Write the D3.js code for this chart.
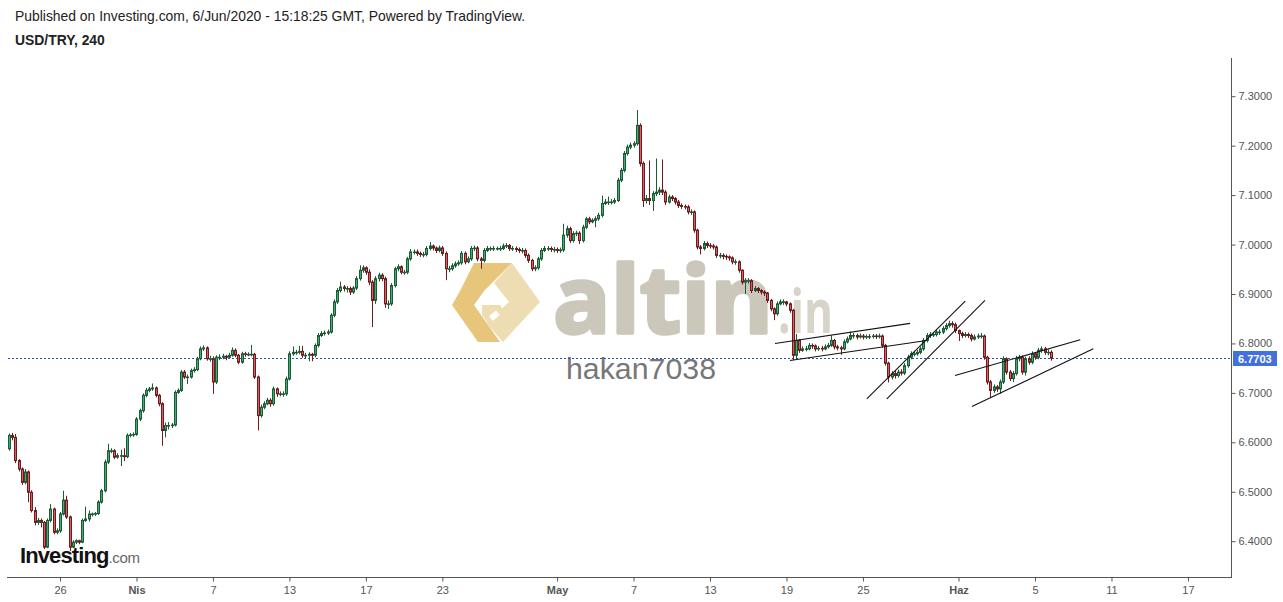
<!DOCTYPE html>
<html><head><meta charset="utf-8">
<script src="https://cdn.jsdelivr.net/npm/d3@7/dist/d3.min.js"></script>
<style>
html,body{margin:0;padding:0;background:#fff;}
svg{display:block;font-family:Arial,"Liberation Sans",sans-serif;}
</style></head>
<body><svg id="c" width="1283" height="602"></svg>
<script>
// USD/TRY 4h candles, first bar = 23 Mar 2020 08:00, 6 bars per trading day
const firstOpen = 6.587;
const closes = [
 6.614,6.610,6.563,6.546,
 6.519,6.540,6.499,6.462,6.438,6.442,
 6.438,6.388,6.442,6.465,6.418,6.421,
 6.455,6.483,6.449,6.388,6.398,6.401,
 6.398,6.442,6.445,6.455,6.455,6.456,
 6.479,6.502,6.560,6.583,6.583,6.570,
 6.573,6.573,6.571,6.614,6.615,6.616,
 6.647,6.664,6.695,6.705,6.708,6.710,
 6.695,6.678,6.624,6.634,6.634,6.635,
 6.701,6.705,6.742,6.732,6.732,6.745,
 6.747,6.769,6.789,6.791,6.769,6.769,
 6.722,6.772,6.772,6.774,6.772,6.776,
 6.786,6.776,6.762,6.779,6.778,6.778,
 6.778,6.732,6.654,6.671,6.678,6.685,
 6.678,6.708,6.698,6.698,6.698,6.728,
 6.779,6.782,6.782,6.784,6.776,6.776,
 6.778,6.776,6.796,6.816,6.820,6.821,
 6.823,6.857,6.884,6.907,6.914,6.911,
 6.911,6.904,6.912,6.931,6.948,6.953,
 6.944,6.924,6.887,6.931,6.938,6.931,
 6.880,6.880,6.917,6.951,6.955,6.944,
 6.944,6.971,6.985,6.985,6.982,6.980,
 6.980,6.992,6.997,6.993,6.988,6.993,
 6.982,6.951,6.951,6.957,6.961,6.963,
 6.982,6.965,6.971,6.992,6.993,6.971,
 6.968,6.988,6.992,6.992,6.992,6.992,
 6.992,6.997,6.998,6.992,6.992,6.990,
 6.988,6.988,6.978,6.968,6.951,6.953,
 6.971,6.988,6.992,6.992,6.990,6.990,
 6.988,6.989,7.019,7.032,7.008,7.022,
 7.023,7.008,7.035,7.052,7.046,7.049,
 7.052,7.059,7.083,7.086,7.086,7.086,
 7.089,7.130,7.150,7.184,7.197,7.201,
 7.204,7.241,7.164,7.089,7.093,7.089,
 7.103,7.106,7.110,7.106,7.086,7.096,
 7.093,7.086,7.079,7.077,7.076,7.066,
 7.066,7.029,6.995,6.992,7.002,6.998,
 6.997,6.995,6.978,6.978,6.976,6.975,
 6.973,6.965,6.965,6.948,6.924,6.927,
 6.927,6.907,6.911,6.907,6.904,6.902,
 6.887,6.870,6.860,6.880,6.884,6.884,
 6.880,6.867,6.776,6.806,6.786,6.789,
 6.789,6.796,6.795,6.789,6.790,6.789,
 6.793,6.796,6.806,6.793,6.791,6.789,
 6.803,6.809,6.816,6.816,6.813,6.815,
 6.813,6.814,6.814,6.815,6.814,6.815,
 6.796,6.760,6.732,6.739,6.735,6.742,
 6.740,6.755,6.772,6.779,6.779,6.782,
 6.789,6.806,6.816,6.818,6.818,6.823,
 6.823,6.830,6.836,6.840,6.838,6.826,
 6.820,6.816,6.818,6.816,6.809,6.813,
 6.815,6.815,6.772,6.722,6.705,6.712,
 6.708,6.722,6.769,6.742,6.729,6.739,
 6.769,6.772,6.742,6.769,6.762,6.779,
 6.772,6.786,6.789,6.782,6.782,6.7703
];
const highs = [
 6.618,6.619,6.617,6.566,
 6.549,6.546,6.543,6.503,6.469,6.447,
 6.446,6.441,6.446,6.475,6.468,6.426,
 6.459,6.502,6.492,6.452,6.402,6.404,
 6.403,6.446,6.470,6.462,6.458,6.459,
 6.483,6.506,6.565,6.597,6.588,6.586,
 6.578,6.585,6.588,6.618,6.619,6.620,
 6.651,6.668,6.699,6.710,6.712,6.719,
 6.713,6.698,6.681,6.640,6.641,6.639,
 6.705,6.709,6.746,6.746,6.737,6.749,
 6.752,6.773,6.794,6.796,6.794,6.775,
 6.774,6.776,6.778,6.779,6.777,6.781,
 6.792,6.790,6.779,6.783,6.783,6.782,
 6.797,6.781,6.735,6.676,6.683,6.690,
 6.689,6.713,6.711,6.703,6.703,6.733,
 6.784,6.794,6.787,6.795,6.795,6.781,
 6.782,6.781,6.800,6.821,6.825,6.826,
 6.828,6.861,6.889,6.912,6.925,6.918,
 6.916,6.915,6.916,6.936,6.958,6.958,
 6.956,6.950,6.928,6.936,6.943,6.942,
 6.935,6.887,6.922,6.955,6.960,6.958,
 6.949,6.975,6.991,6.990,6.990,6.986,
 6.985,6.997,7.005,7.000,6.996,6.998,
 6.997,6.986,6.957,6.962,6.966,6.968,
 6.987,6.986,6.976,6.997,6.998,6.997,
 6.975,6.993,6.997,6.996,6.997,6.996,
 6.997,7.002,7.003,7.001,6.997,6.996,
 6.994,6.993,6.992,6.982,6.971,6.958,
 6.975,6.993,6.997,6.997,6.996,6.995,
 6.994,6.994,7.042,7.038,7.036,7.027,
 7.028,7.027,7.040,7.056,7.056,7.053,
 7.057,7.064,7.099,7.092,7.097,7.092,
 7.094,7.135,7.155,7.189,7.202,7.206,
 7.209,7.272,7.245,7.168,7.100,7.170,
 7.108,7.174,7.116,7.172,7.110,7.101,
 7.100,7.096,7.090,7.083,7.081,7.080,
 7.071,7.069,7.032,6.999,7.007,7.006,
 7.003,7.001,6.998,6.983,6.982,6.980,
 6.978,6.976,6.970,6.968,6.950,6.932,
 6.932,6.930,6.916,6.914,6.910,6.907,
 6.904,6.890,6.873,6.885,6.889,6.889,
 6.886,6.883,6.870,6.819,6.809,6.794,
 6.795,6.801,6.800,6.798,6.795,6.795,
 6.798,6.801,6.816,6.809,6.797,6.795,
 6.808,6.814,6.824,6.821,6.820,6.820,
 6.819,6.818,6.819,6.819,6.819,6.820,
 6.818,6.799,6.763,6.744,6.745,6.747,
 6.748,6.760,6.777,6.784,6.785,6.787,
 6.794,6.811,6.821,6.823,6.823,6.828,
 6.828,6.835,6.841,6.846,6.845,6.842,
 6.828,6.824,6.823,6.822,6.820,6.818,
 6.820,6.821,6.818,6.775,6.726,6.717,
 6.716,6.727,6.774,6.772,6.746,6.744,
 6.775,6.777,6.776,6.773,6.774,6.784,
 6.782,6.791,6.794,6.793,6.788,6.786
];
const lows = [
 6.583,6.604,6.558,6.541,
 6.514,6.515,6.479,6.458,6.432,6.433,
 6.428,6.384,6.386,6.438,6.414,6.414,
 6.417,6.452,6.445,6.380,6.386,6.394,
 6.394,6.396,6.439,6.440,6.450,6.451,
 6.453,6.476,6.499,6.556,6.578,6.566,
 6.567,6.552,6.562,6.568,6.610,6.611,
 6.613,6.643,6.660,6.691,6.701,6.704,
 6.691,6.673,6.593,6.610,6.626,6.629,
 6.632,6.698,6.702,6.728,6.718,6.729,
 6.741,6.744,6.766,6.785,6.765,6.763,
 6.698,6.718,6.766,6.768,6.766,6.770,
 6.773,6.772,6.758,6.759,6.773,6.774,
 6.774,6.728,6.624,6.650,6.667,6.675,
 6.672,6.674,6.692,6.693,6.692,6.694,
 6.725,6.775,6.777,6.778,6.771,6.770,
 6.764,6.764,6.772,6.792,6.813,6.816,
 6.817,6.820,6.853,6.880,6.903,6.905,
 6.903,6.898,6.900,6.908,6.927,6.943,
 6.939,6.918,6.833,6.880,6.925,6.926,
 6.872,6.870,6.876,6.913,6.946,6.940,
 6.939,6.940,6.967,6.980,6.977,6.975,
 6.974,6.976,6.988,6.988,6.983,6.984,
 6.977,6.928,6.944,6.947,6.953,6.957,
 6.959,6.960,6.962,6.967,6.987,6.966,
 6.951,6.964,6.985,6.987,6.987,6.988,
 6.987,6.989,6.993,6.987,6.987,6.985,
 6.983,6.982,6.973,6.963,6.946,6.946,
 6.949,6.967,6.985,6.987,6.985,6.984,
 6.983,6.983,6.985,7.014,7.003,7.004,
 7.017,7.001,7.004,7.031,7.041,7.043,
 7.035,7.048,7.055,7.080,7.080,7.081,
 7.082,7.086,7.126,7.146,7.180,7.193,
 7.196,7.200,7.158,7.076,7.083,7.080,
 7.068,7.098,7.100,7.100,7.080,7.083,
 7.088,7.081,7.074,7.072,7.071,7.061,
 7.060,7.024,6.990,6.980,6.988,6.993,
 6.992,6.990,6.973,6.972,6.970,6.969,
 6.967,6.960,6.959,6.943,6.919,6.900,
 6.921,6.902,6.904,6.902,6.899,6.896,
 6.882,6.865,6.847,6.856,6.877,6.878,
 6.875,6.862,6.766,6.770,6.781,6.783,
 6.784,6.786,6.789,6.784,6.785,6.784,
 6.786,6.790,6.793,6.788,6.786,6.777,
 6.786,6.800,6.806,6.810,6.808,6.810,
 6.808,6.809,6.809,6.810,6.809,6.810,
 6.791,6.755,6.721,6.727,6.729,6.731,
 6.735,6.736,6.751,6.768,6.774,6.775,
 6.778,6.785,6.802,6.811,6.813,6.814,
 6.817,6.819,6.826,6.832,6.832,6.821,
 6.805,6.811,6.812,6.811,6.804,6.806,
 6.809,6.810,6.767,6.717,6.690,6.700,
 6.702,6.698,6.718,6.737,6.724,6.722,
 6.735,6.764,6.737,6.735,6.757,6.758,
 6.767,6.768,6.781,6.777,6.776,6.765
];
// x-axis: bar index of each labelled day (trading day n -> bar 6n-2)
const tickLabels = ["26","Nis","7","13","17","23","May","7","13","19","25","Haz","5","11","17"];
const tickDays   = [3,7,11,15,19,23,29,33,37,41,45,50,54,58,62];
const boldLabels = ["Nis","May","Haz"];
const priceTicks = [6.4,6.5,6.6,6.7,6.8,6.9,7.0,7.1,7.2,7.3];
const lastPrice = 6.7703;
// drawn trend lines: [barIndex, price] pairs
const trendLines = [
 [[240.4,6.8000],[282.8,6.8405]],
 [[245.1,6.7656],[288.0,6.8060]],
 [[269.2,6.6880],[300.1,6.8856]],
 [[275.5,6.6880],[306.3,6.8870]],
 [[296.9,6.7352],[336.2,6.8075]],
 [[302.2,6.6724],[340.3,6.7893]]
];

const svg = d3.select("#c");
const plotL = 7, plotR = 1231, plotT = 58, plotB = 577;

const x = d3.scaleLinear().domain([16, 322]).range([60, 1035]);
const y = d3.scaleLinear().domain([6.4, 7.3]).range([541.2, 96.2]);

const bars = closes.map((c,i)=>({i, o: i===0 ? firstOpen : closes[i-1], c, h: highs[i], l: lows[i]}));

// header
svg.append("text").attr("x",15).attr("y",21).attr("font-size",13.9).attr("fill","#222")
  .text("Published on Investing.com, 6/Jun/2020 - 15:18:25 GMT, Powered by TradingView.");
svg.append("text").attr("x",15).attr("y",45).attr("font-size",13.9).attr("font-weight","bold").attr("fill","#222")
  .text("USD/TRY, 240");

// watermark (altin.in logo)
const wm = svg.append("g");
const logo = wm.append("g").attr("transform","translate(452,263)");
logo.append("polygon").attr("points","22,0 60,0 32,28 8,28").attr("fill","#e7c57b");
logo.append("polygon").attr("points","0,42 8,28 32,28 22,42").attr("fill","#e7c57b");
logo.append("polygon").attr("points","0,42 22,42 48,79 26,79").attr("fill","#e7c57b");
logo.append("polygon").attr("points","60,0 88,39 51,79 34,60 57,39 42,20").attr("fill","#eedcb3");
logo.append("polygon").attr("points","30,42 48,42 56,54 40,66 30,52").attr("fill","#eedcb3");
logo.append("rect").attr("x",38).attr("y",50).attr("width",9).attr("height",6).attr("fill","#fff").attr("transform","rotate(-40,42,53)");
wm.append("text").attr("x",553).attr("y",333).attr("font-size",94).attr("font-weight","bold")
  .attr("font-family","'Open Sans',Arial,sans-serif").attr("fill","#cbc7bb")
  .attr("stroke","#cbc7bb").attr("stroke-width",3.5).attr("stroke-linejoin","round")
  .attr("textLength",220).attr("lengthAdjust","spacingAndGlyphs").text("altin");
wm.append("text").attr("x",778).attr("y",333).attr("font-size",60).attr("font-weight","bold")
  .attr("font-family","'Open Sans',Arial,sans-serif").attr("fill","#d8d4c9")
  .attr("textLength",55).attr("lengthAdjust","spacingAndGlyphs").text(".in");
wm.append("text").attr("x",566).attr("y",379).attr("font-size",30).attr("fill","#777")
  .attr("textLength",150).attr("lengthAdjust","spacingAndGlyphs").text("hakan7038");

// plot area
const plot = svg.append("g");
plot.append("clipPath").attr("id","clip").append("rect")
  .attr("x",plotL).attr("y",plotT).attr("width",plotR-plotL).attr("height",plotB-plotT);
const pg = plot.append("g").attr("clip-path","url(#clip)");

// last price dotted line
const ly = Math.round(y(lastPrice));
pg.append("line").attr("x1",0).attr("x2",plotR).attr("y1",ly+0.5).attr("y2",ly+0.5)
  .attr("stroke","#2f4fb0").attr("stroke-width",1).attr("stroke-dasharray","2,2");

// candles
const upFill="#3fae72", upLine="#1d5a36", dnFill="#de5b63", dnLine="#6b1c1c";
const cg = pg.append("g");
cg.selectAll("line.wick").data(bars).join("line").attr("class","wick")
  .attr("x1",d=>Math.round(x(d.i)-1)+1.5).attr("x2",d=>Math.round(x(d.i)-1)+1.5)
  .attr("y1",d=>y(d.h)).attr("y2",d=>y(d.l))
  .attr("stroke",d=>d.c>=d.o?upLine:dnLine).attr("stroke-width",1);
cg.selectAll("rect.body").data(bars).join("rect").attr("class","body")
  .attr("x",d=>Math.round(x(d.i)-1)+0.5).attr("width",2)
  .attr("y",d=>y(Math.max(d.o,d.c)))
  .attr("height",d=>Math.max(0.6,Math.abs(y(d.o)-y(d.c))))
  .attr("fill",d=>d.c>=d.o?upFill:dnFill)
  .attr("stroke",d=>d.c>=d.o?upLine:dnLine).attr("stroke-width",1);

// trend lines
pg.selectAll("line.trend").data(trendLines).join("line").attr("class","trend")
  .attr("x1",d=>x(d[0][0])).attr("y1",d=>y(d[0][1]))
  .attr("x2",d=>x(d[1][0])).attr("y2",d=>y(d[1][1]))
  .attr("stroke","#111").attr("stroke-width",1.1);

// axes
svg.append("line").attr("x1",plotR+0.5).attr("x2",plotR+0.5).attr("y1",plotT).attr("y2",plotB+0.5)
  .attr("stroke","#555").attr("stroke-width",1);
svg.append("line").attr("x1",plotL).attr("x2",plotR+1).attr("y1",plotB+0.5).attr("y2",plotB+0.5)
  .attr("stroke","#555").attr("stroke-width",1);

const yAxis = d3.axisRight(y).tickValues(priceTicks).tickFormat(d3.format(".4f")).tickSize(4).tickPadding(3);
const ya = svg.append("g").attr("transform",`translate(${plotR+0.5},0)`).call(yAxis);
ya.select(".domain").remove();
ya.selectAll("line").attr("stroke","#555");
ya.selectAll("text").attr("fill","#555").attr("font-size",11).attr("font-family","Arial,'Liberation Sans',sans-serif");

const tickBars = tickDays.map(d=>d*6-2);
const xAxis = d3.axisBottom(x).tickValues(tickBars).tickFormat((d,i)=>tickLabels[i]).tickSize(4).tickPadding(5);
const xa = svg.append("g").attr("transform",`translate(0,${plotB+0.5})`).call(xAxis);
xa.select(".domain").remove();
xa.selectAll("line").attr("stroke","#555");
xa.selectAll("text").attr("fill","#555").attr("font-size",11).attr("font-family","Arial,'Liberation Sans',sans-serif")
  .attr("font-weight",d=>boldLabels.includes(tickLabels[tickBars.indexOf(d)])?"bold":"normal");

// last price label
svg.append("rect").attr("x",plotR+2).attr("y",ly-7).attr("width",44).attr("height",15).attr("fill","#4270dd");
svg.append("text").attr("x",plotR+7).attr("y",ly+4.5).attr("font-size",11).attr("font-weight","bold")
  .attr("fill","#fff").text(d3.format(".4f")(lastPrice));

// Investing.com logo
const inv = svg.append("text").attr("x",20).attr("y",563);
inv.append("tspan").attr("font-size",22).attr("font-weight","bold").attr("fill","#111").attr("letter-spacing","-0.9").text("Investing");
inv.append("tspan").attr("font-size",15).attr("fill","#666").attr("letter-spacing","-0.3").text(".com");
</script></body></html>
